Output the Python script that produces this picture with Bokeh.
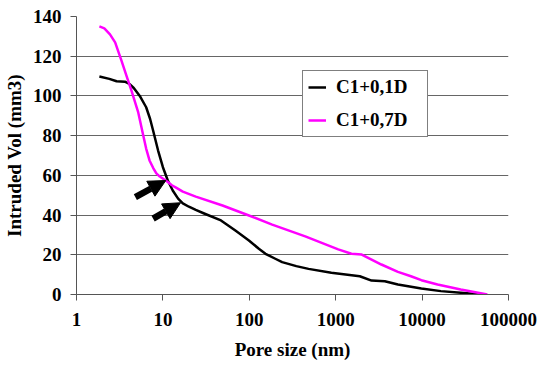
from bokeh.plotting import figure
from bokeh.models import (Range1d, FixedTicker, Legend, LegendItem, Arrow, NormalHead)
from bokeh.embed import file_html
from bokeh.resources import INLINE

# Mercury intrusion curves: cumulative intruded volume vs pore size
pore_01d = [1.84, 2.4, 2.91, 3.63, 4.1, 4.6, 5.4, 6.4, 7.1, 7.7, 8.8, 10, 11.4,
            13, 15, 17, 20, 24, 30, 47, 69, 99, 129, 154, 200, 240, 350, 485,
            890, 1900, 2600, 3700, 5250, 9800, 16500, 28000, 50000]
vol_01d = [109.8, 108.6, 107.4, 107.2, 106.0, 104.0, 100.0, 94.3, 88.5, 82.6,
           72.5, 64.1, 57.4, 52.4, 48.3, 45.9, 44.2, 42.6, 40.8, 37.3, 32.2,
           27.2, 23.0, 20.5, 18.0, 16.3, 14.3, 12.9, 10.9, 9.2, 7.0, 6.7, 5.0,
           3.0, 1.7, 0.85, 0]

pore_07d = [1.84, 2.1, 2.44, 2.8, 3.3, 3.8, 4.3, 5.16, 5.9, 6.4, 7.0, 7.7, 8.4,
            9.2, 10.45, 11.4, 12.7, 14.2, 17, 24, 49, 99, 184, 444, 1070, 1520,
            2000, 3380, 5250, 7430, 9800, 15100, 28000, 56900]
vol_07d = [135, 134, 131, 127, 118, 110, 103, 92.0, 80.5, 73.5, 67.5, 63.8,
           61.0, 59.4, 57.8, 56.6, 55.0, 53.8, 51.8, 49.3, 44.8, 39.8, 35.2,
           29.3, 22.7, 20.5, 20.1, 15.1, 11.4, 9.2, 7.2, 5.0, 2.5, 0]

series_names = ["C1+0,1D", "C1+0,7D"]

x_ticks = [1, 10, 100, 1000, 10000, 100000]
x_tick_labels = ["1", "10", "100", "1000", "10000", "100000"]
y_ticks = [0, 20, 40, 60, 80, 100, 120, 140]

# arrows pointing at the inflection points (pore size, volume)
arrow_start_x = [4.8, 7.7]
arrow_start_y = [49.0, 38.2]
arrow_end_x = [10.8, 16.0]
arrow_end_y = [57.4, 46.2]

FONT = "Liberation Serif"

p = figure(width=539, height=368, x_axis_type="log",
           x_range=Range1d(1, 100000), y_range=Range1d(0, 140),
           output_backend="svg", toolbar_location=None,
           min_border_left=73, min_border_right=31,
           min_border_top=16, min_border_bottom=74)
p.outline_line_color = None
p.background_fill_color = "white"
p.border_fill_color = "white"

p.xgrid.grid_line_color = None
p.ygrid.grid_line_color = "#666666"
p.ygrid.grid_line_width = 1
p.ygrid.ticker = FixedTicker(ticks=y_ticks)

p.xaxis.ticker = FixedTicker(ticks=x_ticks, minor_ticks=[])
p.xaxis.major_label_overrides = {t: s for t, s in zip(x_ticks, x_tick_labels)}
p.yaxis.ticker = FixedTicker(ticks=y_ticks, minor_ticks=[])

for ax in (p.xaxis, p.yaxis):
    ax.axis_line_color = "#555555"
    ax.major_tick_line_color = "#555555"
    ax.major_tick_out = 6
    ax.major_tick_in = 0
    ax.minor_tick_line_color = None
    ax.major_label_text_font = FONT
    ax.major_label_text_font_style = "bold"
    ax.major_label_text_font_size = "19px"
    ax.major_label_text_color = "black"
    ax.axis_label_text_font = FONT
    ax.axis_label_text_font_style = "bold"
    ax.axis_label_text_font_size = "19px"
    ax.axis_label_text_color = "black"

p.xaxis.axis_label = "Pore size (nm)"
p.yaxis.axis_label = "Intruded Vol (mm3)"
p.xaxis.major_label_standoff = 12
p.xaxis.axis_label_standoff = 10
p.yaxis.major_label_standoff = 9
p.yaxis.axis_label_standoff = 5

r1 = p.line(pore_01d, vol_01d, line_color="black", line_width=2.5,
            line_join="round")
r2 = p.line(pore_07d, vol_07d, line_color="#ff00ff", line_width=2.5,
            line_join="round")

for xs, ys, xe, ye in zip(arrow_start_x, arrow_start_y, arrow_end_x, arrow_end_y):
    p.add_layout(Arrow(x_start=xs, y_start=ys, x_end=xe, y_end=ye,
                       line_color="black", line_width=6.5,
                       end=NormalHead(size=17, fill_color="black",
                                      line_color="black", line_width=1)))

legend = Legend(items=[LegendItem(label=series_names[0], renderers=[r1]),
                       LegendItem(label=series_names[1], renderers=[r2])],
                location=(226, 157), orientation="vertical",
                label_text_font=FONT, label_text_font_style="bold",
                label_text_font_size="19px", label_text_color="black",
                glyph_width=18, glyph_height=20, label_standoff=10,
                label_width=86, label_height=20, spacing=11, padding=5,
                margin=0, border_line_color="black", border_line_width=1,
                background_fill_color="white", background_fill_alpha=1.0)
p.add_layout(legend)

open("out.html", "w").write(file_html(p, INLINE))
